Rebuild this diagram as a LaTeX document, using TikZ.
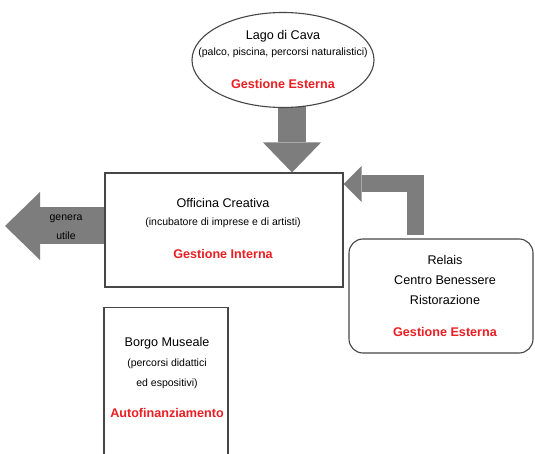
\documentclass[tikz,border=0pt]{standalone}
\usepackage{fontspec}
\setmainfont{Liberation Sans}
\usetikzlibrary{positioning,shapes.geometric,arrows.meta,backgrounds}

\definecolor{boxline}{RGB}{70,70,70}
\definecolor{arrowgray}{RGB}{125,125,125}
\definecolor{gred}{RGB}{235,30,35}

\begin{document}
\begin{tikzpicture}[x=1pt,y=-1pt,
    box/.style={draw=boxline,fill=white,line width=1.1pt,inner sep=0pt},
    title/.style={font=\fontsize{12.6}{14}\selectfont,inner sep=0pt},
    sub/.style={font=\fontsize{10.5}{12}\selectfont,inner sep=0pt},
    gest/.style={text=gred,font=\fontsize{12.6}{14}\selectfont\bfseries,inner sep=0pt},
    blockarrow/.style={draw=arrowgray,line join=miter}]

\useasboundingbox (0,0) rectangle (535,454);

% boxes
\node[box,ellipse,minimum width=182pt,minimum height=95pt] (lago) at (283,60) {};
\node[box,minimum width=238pt,minimum height=114pt] (officina) at (224,230) {};
\node[box,rounded corners=14pt,minimum width=184pt,minimum height=114pt] (relais) at (441,296) {};
\node[box,minimum width=124pt,minimum height=180pt,anchor=north] (borgo) at (166,307) {};

% texts
\node[title] (lagotit) at (283,36) {Lago di Cava};
\node[sub]   (lagosub) at (283,53) {(palco, piscina, percorsi naturalistici)};
\node[gest]  (lagogest) at (283,84) {Gestione Esterna};

\node[title] (offtit) at (223,203) {Officina Creativa};
\node[sub]   (offsub) at (223,223) {(incubatore di imprese e di artisti)};
\node[gest]  (offgest) at (223,254) {Gestione Interna};

\node[title] (reltit) at (445,260) {Relais};
\node[title] (relcentro) at (445,280) {Centro Benessere};
\node[title] (relrist) at (445,300) {Ristorazione};
\node[gest]  (relgest) at (445,332) {Gestione Esterna};

\node[title] (borgotit) at (167,343) {Borgo Museale};
\node[sub]   (borgosub) at (167,364) {(percorsi didattici};
\node[sub]   (borgosubb) at (167,384) {ed espositivi)};
\node[gest]  (borgogest) at (167,413) {Autofinanziamento};

% block arrows
\coordinate (utiletip) at (5,226);
\coordinate (bentcorner) at (415,184);
\coordinate (bentfoot) at (415,235);
\begin{scope}[on background layer]
\fill[white] (0,0) rectangle (535,454);
\draw[blockarrow,line width=28pt,-{Triangle[length=30pt,width=58pt,line width=0pt]}]
  ([xshift=9pt]lago.center) -- ([xshift=9pt]lago.center |- officina.north);
\draw[blockarrow,line width=37pt,-{Triangle[length=35pt,width=68pt,line width=0pt]}]
  (officina.west |- utiletip) -- (utiletip);
\draw[blockarrow,line width=17pt,-{Triangle[length=18pt,width=36pt,line width=0pt]}]
  (bentfoot) |- (officina.east |- bentcorner);
\end{scope}
\node[font=\fontsize{10.5}{12}\selectfont,inner sep=0pt] (genera) at (66,219) {genera};
\node[font=\fontsize{10.5}{12}\selectfont,inner sep=0pt] (utile) at (66,236) {utile};
\end{tikzpicture}
\end{document}
